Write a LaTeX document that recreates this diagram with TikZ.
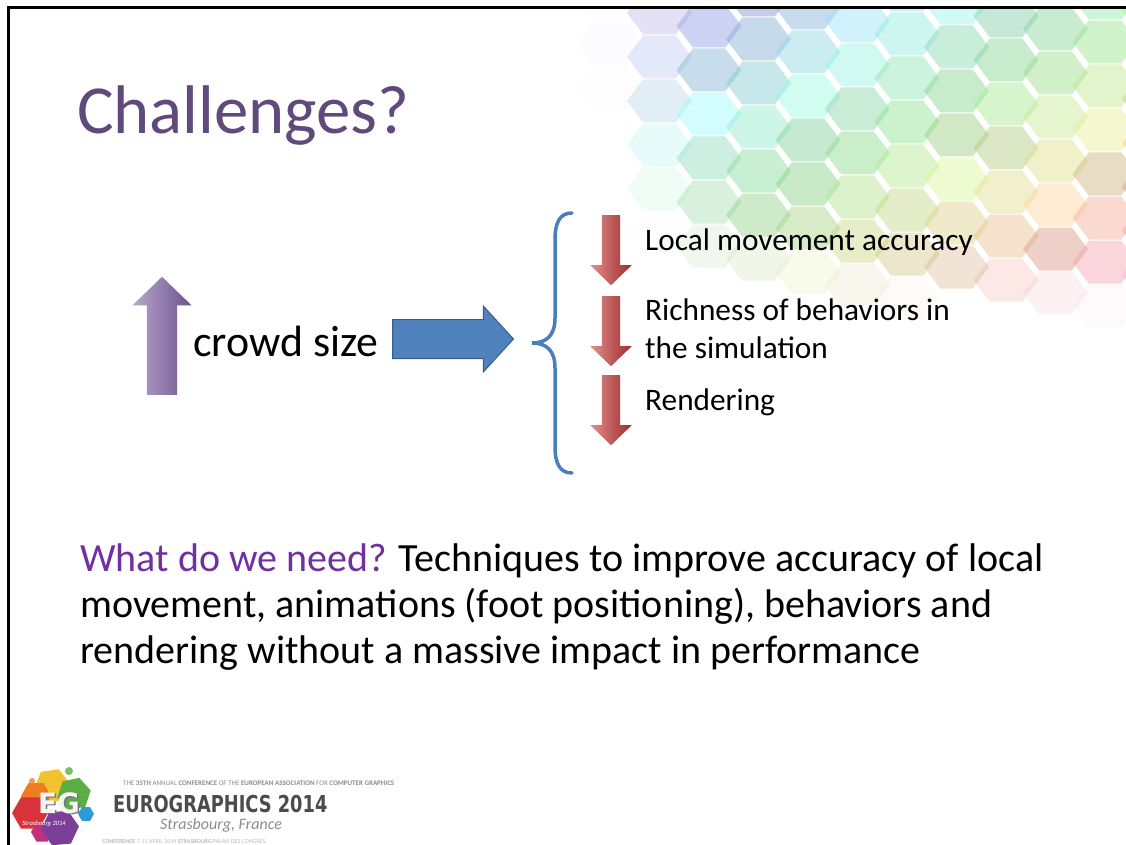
\documentclass[tikz,border=0pt]{standalone}
\usepackage{fontspec}
\setmainfont{Carlito}
\newfontfamily\bannerfont{DejaVu Sans Condensed}
\usetikzlibrary{shapes.arrows, shapes.geometric, positioning, calc}
\definecolor{titlepurple}{HTML}{604A7B}
\definecolor{askpurple}{HTML}{7030A0}
\definecolor{pushblue}{HTML}{4F81BD}
\definecolor{pushline}{HTML}{385D8A}
\definecolor{bracecol}{HTML}{4A7EBB}
\definecolor{risepurple}{HTML}{7F5FA6}
\definecolor{dropred}{HTML}{C83434}
\definecolor{logoyellow}{HTML}{F2C12E}
\definecolor{logoorange}{HTML}{EE7D22}
\definecolor{logogreen}{HTML}{5BAE45}
\definecolor{logored}{HTML}{D8323B}
\definecolor{logopurple}{HTML}{7B3F98}
\definecolor{logomagenta}{HTML}{C1307A}
\definecolor{logoblue}{HTML}{2E9AD8}
\definecolor{logodark}{HTML}{4B4B4B}
\definecolor{logogray}{HTML}{8C8C8C}
\tikzset{
  slideText/.style = {anchor=base west, inner sep=0pt, align=left},
  titleText/.style = {slideText, text=titlepurple, font=\fontsize{68.8}{80}\selectfont},
  crowdText/.style = {slideText, font=\fontsize{43.8}{52}\selectfont},
  listText/.style = {slideText, font=\fontsize{31.3}{38}\selectfont},
  bodyText/.style = {slideText, font=\fontsize{40}{46}\selectfont},
  riseArrow/.style = {single arrow, shape border rotate=90, inner sep=15pt,
    minimum width=59pt, minimum height=118pt, single arrow head extend=14.5pt,
    single arrow tip angle=92, left color=risepurple!55!white,
    middle color=risepurple, right color=risepurple!85!black},
  pushArrow/.style = {single arrow, inner sep=19pt, fill=pushblue,
    draw=pushline, line width=1pt, minimum width=65pt, minimum height=121pt,
    single arrow head extend=13.5pt, single arrow tip angle=95},
  dropArrow/.style = {single arrow, shape border rotate=270, inner sep=9pt,
    minimum width=41pt, minimum height=70pt, single arrow head extend=11.5pt,
    single arrow tip angle=92, left color=dropred!55!white,
    middle color=dropred, right color=dropred!80!black},
  brace/.style = {draw=bracecol, line width=3.5pt, line cap=round},
  logoHex/.style = {regular polygon, regular polygon sides=6, inner sep=0pt},
  logoSmall/.style = {slideText, text=logogray, font=\fontsize{7}{8}\selectfont},
  badgeText/.style = {anchor=base, inner sep=0pt, xscale=1.1, font=\bannerfont\bfseries\fontsize{28}{28}\selectfont},
}

\begin{document}
\begin{tikzpicture}[x=1pt, y=-1pt]
\useasboundingbox (0,0) rectangle (1126,845);
\fill[white] (0,0) rectangle (1126,845);

% honeycomb backdrop, fading out towards the lower left
\pgfmathsetseed{11}
\begin{scope}
  \clip (9,9) rectangle (1126,330);
  \foreach \i in {0,...,11}{
    \foreach \j in {-1,...,9}{
      \pgfmathsetmacro\cx{610+49.5*\i}
      \pgfmathsetmacro\cy{44*\j+22*mod(\i,2)-9*\i}
      \pgfmathsetmacro\rr{sqrt(sqrt(((\cx-1126)/520)^4+(\cy/310)^4))}
      \pgfmathsetmacro\op{max(0,min(0.45,2.5*(1-\rr)))}
      \pgfmathsetmacro\hue{mod(620-0.55*(\cy+0.5*(\cx-650)),360)}
      \pgfmathsetmacro\bri{0.8+0.2*rnd}
      \definecolor{hexfill}{Hsb}{\hue,0.38,\bri}
      \fill[hexfill, opacity=\op] (\cx-32.5,\cy) -- ++(16.25,-21.5) -- ++(32.5,0)
        -- ++(16.25,21.5) -- ++(-16.25,21.5) -- ++(-32.5,0) -- cycle;
    }
  }
\end{scope}

% slide frame
\draw[black, line width=3pt] (8.5,845) -- (8.5,7.5) -- (1126,7.5);

\node[titleText] (title) at (77,134) {Challenges?};

\node[riseArrow, anchor=tail] (rise) at (162,395) {};
\node[crowdText] (crowd) at (193,356) {crowd size};
\node[pushArrow, anchor=tail] (push) at (392,339) {};

% curly brace
\draw[brace] (572,213) .. controls (560,213) and (555,222) .. (555,240)
  -- (555,318) .. controls (555,336) and (546,343) .. (532,343)
  .. controls (546,343) and (555,350) .. (555,368)
  -- (555,446) .. controls (555,464) and (560,473) .. (572,473);

\node[dropArrow, anchor=tail] (drop1) at (611,215) {};
\node[dropArrow, anchor=tail] (drop2) at (611,296) {};
\node[dropArrow, anchor=tail] (drop3) at (611,375) {};

\node[listText] (local) at (645,250) {Local movement accuracy};
\node[listText] (rich) at (645,358) {Richness of behaviors in\\the simulation};
\node[listText] (render) at (645,410) {Rendering};

\node[bodyText] (need) at (80,663) {\textcolor{askpurple}{What do we need?} Techniques to improve accuracy of local\\
  movement, animations (foot positioning), behaviors and\\
  rendering without a massive impact in performance};

% conference logo
\node[logoHex, fill=logoyellow, minimum size=36pt, rotate=8] (hexY) at (52,786) {};
\node[logoHex, fill=logoorange, minimum size=30pt] (hexO) at (36,796) {};
\node[logoHex, fill=logogreen, minimum size=34pt, rotate=12] (hexG) at (74,794) {};
\node[logoHex, fill=logored, minimum size=36pt] (hexR) at (30,813) {};
\node[logoHex, fill=logomagenta, minimum size=22pt] (hexM) at (42,832) {};
\node[logoHex, fill=logopurple, minimum size=38pt, rotate=5] (hexP) at (60,828) {};
\node[logoHex, fill=logoblue, minimum size=16pt] (hexB) at (86,814) {};
\fill[logogreen!80!white] (69,771) circle (4);
\fill[logoorange!80!white] (32,781) circle (3);
\node[badgeText, text=black!55] (egshadow) at (60.5,814.5) {EG};
\node[badgeText, text=black!4] (eg) at (59,813) {EG};
\node[inner sep=0pt, text=white, font=\itshape\fontsize{6.5}{7}\selectfont] (egcity) at (44,824) {Strasbourg 2014};

\node[logoSmall] (annual) at (123,785) {THE \textbf{35TH} ANNUAL \textbf{CONFERENCE} OF THE \textbf{EUROPEAN ASSOCIATION} FOR \textbf{COMPUTER GRAPHICS}};
\node[slideText, text=logodark, xscale=0.85, font=\bannerfont\bfseries\fontsize{23.3}{24}\selectfont] (eurographics) at (113,812) {EUROGRAPHICS 2014};
\node[slideText, text=logogray, font=\itshape\fontsize{16}{18}\selectfont] (city) at (160,829) {Strasbourg, France};
\node[logoSmall, text=logogray!60!white, font=\fontsize{6}{7}\selectfont] (dates) at (102,843) {\textbf{CONFERENCE} 7-11 APRIL 2014 \textbf{STRASBOURG} PALAIS DES CONGRÈS};
\end{tikzpicture}
\end{document}
